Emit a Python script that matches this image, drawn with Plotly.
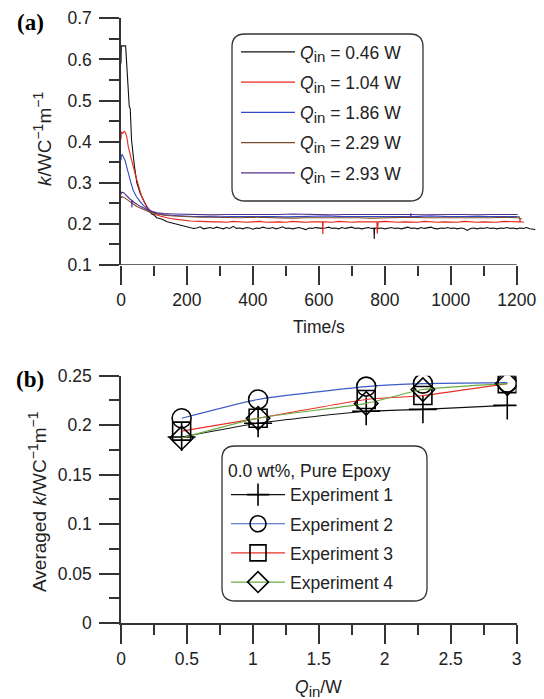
import plotly.graph_objects as go

W, H = 544, 699
def X(px): return px / W
def Y(py): return 1 - py / H

# ---------------- panel (a) data ----------------
legend_a = ["0.46", "1.04", "1.86", "2.29", "2.93"]

t_black = [0, 1, 14, 20, 25, 28, 32, 40, 48, 58, 68, 80, 93, 100, 108, 123, 140, 159, 180, 200,
           210, 220, 230, 240, 250, 260, 270, 280, 290, 300, 310, 320, 330, 340, 350, 360, 370, 380, 390, 400,
           410, 420, 430, 440, 450, 460, 470, 480, 490, 500, 510, 520, 530, 540, 550, 560, 570, 580, 590, 600,
           610, 620, 630, 640, 650, 660, 670, 680, 690, 700, 710, 720, 730, 740, 750, 760, 767, 768, 769, 780,
           790, 800, 810, 820, 830, 840, 850, 860, 870, 880, 890, 900, 910, 920, 930, 940, 950, 960, 970, 980,
           990, 1000, 1010, 1020, 1030, 1040, 1050, 1060, 1070, 1080, 1090, 1100, 1110, 1120, 1130, 1140, 1150,
           1160, 1170, 1180, 1190, 1200, 1210, 1220, 1230, 1240, 1250, 1256]
k_black = [0.590, 0.633, 0.633, 0.550, 0.486, 0.480, 0.404, 0.345, 0.300, 0.275, 0.258, 0.238, 0.224, 0.222, 0.215, 0.212, 0.205, 0.201, 0.196, 0.192,
           0.191, 0.189, 0.190, 0.193, 0.188, 0.190, 0.191, 0.189, 0.192, 0.190, 0.188, 0.191, 0.189, 0.194, 0.189, 0.190, 0.188, 0.191, 0.190, 0.187,
           0.190, 0.189, 0.192, 0.190, 0.189, 0.191, 0.188, 0.190, 0.193, 0.189, 0.190, 0.188, 0.190, 0.191, 0.189, 0.186, 0.190, 0.189, 0.191, 0.190,
           0.189, 0.190, 0.192, 0.189, 0.190, 0.188, 0.191, 0.189, 0.190, 0.192, 0.189, 0.190, 0.188, 0.190, 0.191, 0.189, 0.189, 0.163, 0.190, 0.189,
           0.190, 0.188, 0.190, 0.191, 0.189, 0.190, 0.188, 0.190, 0.192, 0.189, 0.190, 0.188, 0.191, 0.189, 0.190, 0.192, 0.189, 0.188, 0.190, 0.189,
           0.191, 0.189, 0.190, 0.188, 0.190, 0.189, 0.184, 0.189, 0.190, 0.188, 0.190, 0.189, 0.191, 0.189, 0.190, 0.188, 0.190,
           0.189, 0.191, 0.189, 0.190, 0.188, 0.190, 0.189, 0.191, 0.188, 0.187, 0.186]

t_red = [0, 1, 5, 10, 14, 18, 22, 27, 32, 40, 48, 55, 63, 72, 83, 95, 105, 118, 135, 150, 169, 190, 210, 240, 260,
         280, 300, 320, 340, 360, 380, 400, 420, 440, 460, 480, 500, 520, 540, 560, 580, 600, 611, 612, 613, 620,
         640, 660, 680, 700, 720, 740, 760, 776, 777, 778, 780, 800, 820, 840, 860, 880, 900, 920, 940, 960, 980,
         1000, 1020, 1040, 1060, 1080, 1100, 1120, 1140, 1160, 1180, 1200, 1209, 1210, 1211, 1222]
k_red = [0.405, 0.424, 0.420, 0.425, 0.421, 0.410, 0.388, 0.370, 0.355, 0.330, 0.307, 0.286, 0.266, 0.250, 0.238, 0.228, 0.223, 0.219, 0.215, 0.213, 0.211, 0.209, 0.207, 0.206, 0.205,
         0.205, 0.205, 0.204, 0.206, 0.205, 0.204, 0.205, 0.206, 0.204, 0.205, 0.205, 0.204, 0.206, 0.205, 0.204, 0.205, 0.205, 0.205, 0.175, 0.205, 0.205,
         0.204, 0.206, 0.205, 0.204, 0.205, 0.205, 0.204, 0.205, 0.176, 0.205, 0.205, 0.206, 0.205, 0.204, 0.205, 0.205, 0.204, 0.206, 0.205, 0.204, 0.205,
         0.205, 0.204, 0.206, 0.205, 0.204, 0.205, 0.205, 0.204, 0.206, 0.205, 0.205, 0.205, 0.213, 0.205, 0.204]

t_blue = [0, 1, 4, 8, 12, 17, 22, 30, 37, 47, 58, 70, 83, 95, 108, 125, 150, 180, 220, 260, 300, 340, 380, 420, 460,
          500, 540, 580, 620, 660, 700, 740, 780, 820, 860, 878, 879, 880, 900, 940, 980, 1020, 1060, 1100, 1140, 1180, 1203]
k_blue = [0.355, 0.368, 0.368, 0.362, 0.355, 0.340, 0.323, 0.300, 0.282, 0.266, 0.254, 0.243, 0.234, 0.229, 0.226, 0.223, 0.221, 0.219, 0.218, 0.218, 0.217, 0.218, 0.218, 0.219, 0.218,
          0.217, 0.218, 0.218, 0.219, 0.218, 0.218, 0.217, 0.218, 0.218, 0.218, 0.218, 0.226, 0.218, 0.218, 0.219, 0.218, 0.218, 0.217, 0.218, 0.218, 0.218, 0.218]

t_brown = [0, 2, 8, 15, 25, 35, 47, 60, 75, 90, 110, 130, 160, 200, 240, 280, 320, 360, 400, 440, 480, 520, 560, 600,
           640, 680, 720, 760, 800, 840, 880, 920, 960, 1000, 1040, 1080, 1120, 1160, 1200, 1206, 1207, 1208, 1215]
k_brown = [0.262, 0.266, 0.265, 0.261, 0.255, 0.249, 0.243, 0.238, 0.232, 0.228, 0.224, 0.221, 0.219, 0.217, 0.216, 0.216, 0.215, 0.215, 0.216, 0.215, 0.215, 0.214, 0.215, 0.215,
           0.216, 0.215, 0.215, 0.214, 0.215, 0.215, 0.216, 0.215, 0.215, 0.214, 0.215, 0.215, 0.215, 0.216, 0.215, 0.215, 0.219, 0.213, 0.213]

t_purple = [0, 2, 8, 14, 20, 28, 32, 33, 34, 40, 50, 60, 75, 90, 110, 130, 160, 200, 240, 280, 320, 360, 400, 440, 480,
            520, 560, 600, 640, 680, 720, 760, 800, 840, 880, 920, 960, 1000, 1040, 1080, 1120, 1160, 1203]
k_purple = [0.272, 0.277, 0.276, 0.272, 0.266, 0.260, 0.258, 0.240, 0.257, 0.252, 0.246, 0.242, 0.236, 0.231, 0.227, 0.225, 0.224, 0.223, 0.223, 0.222, 0.223, 0.223, 0.222, 0.223, 0.223,
            0.224, 0.223, 0.223, 0.222, 0.223, 0.223, 0.223, 0.224, 0.223, 0.223, 0.222, 0.223, 0.223, 0.223, 0.222, 0.223, 0.223, 0.223]

# ---------------- panel (b) data ----------------
q_in = [0.46, 1.04, 1.86, 2.29, 2.93]
exp1 = [0.188, 0.202, 0.214, 0.216, 0.220]
exp2 = [0.207, 0.226, 0.239, 0.242, 0.243]
exp3 = [0.194, 0.207, 0.226, 0.230, 0.242]
exp4 = [0.187, 0.207, 0.222, 0.236, 0.242]
exp_names = ["Experiment 1", "Experiment 2", "Experiment 3", "Experiment 4"]

FONT = "Liberation Sans, Arial, sans-serif"
AX = "#333333"
TXT = "#222222"
FS = 17.5
SUB = "<span style='font-size:15px'>%s</span>"

fig = go.Figure()

series_a = [(t_black, k_black, "#111111"), (t_red, k_red, "#e8261e"), (t_blue, k_blue, "#3048c4"),
            (t_brown, k_brown, "#7a4a2c"), (t_purple, k_purple, "#55308c")]
for i, (t, k, c) in enumerate(series_a):
    fig.add_trace(go.Scatter(x=t, y=k, mode="lines", line=dict(color=c, width=1.1),
                             name="<i>Q</i><sub>" + SUB % "in" + "</sub> = " + legend_a[i] + " W",
                             legendgroup="a%d" % i, xaxis="x", yaxis="y", legend="legend"))

series_b = [(exp1, "#111111", "cross-thin", 20), (exp2, "#3b5bc9", "circle-open", 19),
            (exp3, "#e8302a", "square-open", 18), (exp4, "#6aab3e", "diamond-open", 18)]
for i, (v, c, sym, sz) in enumerate(series_b):
    fig.add_trace(go.Scatter(x=q_in, y=v, mode="lines+markers",
                             line=dict(color=c, width=1.1, shape="spline", smoothing=0.5),
                             marker=dict(symbol=sym, size=sz, color="black", line=dict(width=1.6, color="black")),
                             name=exp_names[i], legendgroup="b%d" % i,
                             xaxis="x2", yaxis="y2", legend="legend2"))

tickfont = dict(family=FONT, size=FS, color=TXT)
common = dict(showgrid=False, zeroline=False, ticks="outside", tickcolor=AX, tickwidth=1.5,
              linecolor=AX, linewidth=1.5, tickfont=tickfont, automargin=False)

fig.update_layout(
    template="none",
    width=W, height=H, margin=dict(l=0, r=0, t=0, b=0, pad=0),
    paper_bgcolor="white", plot_bgcolor="white",
    font=dict(family=FONT, color=TXT),
    xaxis=dict(domain=[X(121), X(536.5)], range=[0, 1260], anchor="y", showline=False,
               tickvals=[0, 200, 400, 600, 800, 1000, 1200], ticklen=19,
               minor=dict(tickvals=[100, 300, 500, 700, 900, 1100], ticklen=10, tickcolor=AX, tickwidth=1.5, ticks="outside"),
               **common),
    yaxis=dict(domain=[Y(265), Y(18.3)], range=[0.1, 0.7], anchor="x", showline=True,
               tickvals=[0.1, 0.2, 0.3, 0.4, 0.5, 0.6, 0.7], ticklen=20, ticklabelstandoff=4,
               minor=dict(dtick=0.05, ticklen=10, tickcolor=AX, tickwidth=1.5, ticks="outside"),
               **common),
    xaxis2=dict(domain=[X(121), X(516.5)], range=[0, 3], anchor="y2", showline=True,
                tickvals=[0, 0.5, 1, 1.5, 2, 2.5, 3], ticktext=["0", "0.5", "1", "1.5", "2", "2.5", "3"], ticklen=19,
                minor=dict(dtick=0.25, ticklen=10, tickcolor=AX, tickwidth=1.5, ticks="outside"),
                **common),
    yaxis2=dict(domain=[Y(623), Y(375.7)], range=[0, 0.25], anchor="x2", showline=True,
                tickvals=[0, 0.05, 0.1, 0.15, 0.2, 0.25], ticktext=["0", "0.05", "0.1", "0.15", "0.2", "0.25"], ticklen=20,
                ticklabelstandoff=4,
                minor=dict(dtick=0.025, ticklen=10, tickcolor=AX, tickwidth=1.5, ticks="outside"),
                **common),
    legend=dict(x=X(236), y=Y(34), xanchor="left", yanchor="top", bgcolor="rgba(0,0,0,0)", borderwidth=0,
                font=dict(family=FONT, size=FS, color=TXT), traceorder="grouped", tracegroupgap=4.5, itemwidth=54),
    legend2=dict(x=X(226), y=Y(454), xanchor="left", yanchor="top", bgcolor="rgba(0,0,0,0)", borderwidth=0,
                 font=dict(family=FONT, size=FS, color=TXT), traceorder="grouped", tracegroupgap=3.4, itemwidth=54,
                 title=dict(text="0.0 wt%, Pure Epoxy", font=dict(family=FONT, size=FS, color=TXT))),
    showlegend=True,
)

def rrect(x0, y0, x1, y1, r):
    return (f"M {X(x0 + r)},{Y(y0)} L {X(x1 - r)},{Y(y0)} Q {X(x1)},{Y(y0)} {X(x1)},{Y(y0 + r)} "
            f"L {X(x1)},{Y(y1 - r)} Q {X(x1)},{Y(y1)} {X(x1 - r)},{Y(y1)} "
            f"L {X(x0 + r)},{Y(y1)} Q {X(x0)},{Y(y1)} {X(x0)},{Y(y1 - r)} "
            f"L {X(x0)},{Y(y0 + r)} Q {X(x0)},{Y(y0)} {X(x0 + r)},{Y(y0)} Z")

fig.add_shape(type="path", path=rrect(232, 34, 423, 201, 13), xref="paper", yref="paper",
              line=dict(color=AX, width=1.3))
fig.add_shape(type="path", path=rrect(222, 446, 427, 601, 13), xref="paper", yref="paper",
              line=dict(color=AX, width=1.3))
# bottom axis line of panel (a), which stops at 1200 s
fig.add_shape(type="line", x0=0, x1=1200, y0=0.1, y1=0.1, xref="x", yref="y", line=dict(color=AX, width=1.5))

ann = [
    dict(text="<b>(a)</b>", x=X(30), y=Y(22)),
    dict(text="<b>(b)</b>", x=X(30), y=Y(379)),
]
for a in ann:
    fig.add_annotation(xref="paper", yref="paper", showarrow=False, xanchor="center", yanchor="middle",
                       font=dict(family="Liberation Serif, Times New Roman, serif", size=23, color="black"), **a)

SUP = "<sup><span style='font-size:14px'>\u22121</span></sup>"
fig.add_annotation(xref="paper", yref="paper", x=X(43), y=Y(139), showarrow=False, textangle=-90,
                   xanchor="center", yanchor="middle",
                   text="<i>k</i>/WC" + SUP + "m" + SUP, font=dict(family=FONT, size=19, color=TXT))
fig.add_annotation(xref="x", yref="paper", x=600, y=Y(327), showarrow=False, xanchor="center", yanchor="middle",
                   text="Time/s", font=dict(family=FONT, size=FS, color=TXT))
fig.add_annotation(xref="paper", yref="paper", x=X(37), y=Y(502), showarrow=False, textangle=-90,
                   xanchor="center", yanchor="middle",
                   text="Averaged <i>k</i>/WC" + SUP + "m" + SUP, font=dict(family=FONT, size=19, color=TXT))
fig.add_annotation(xref="paper", yref="paper", x=X(318), y=Y(688), showarrow=False, xanchor="center", yanchor="middle",
                   text="<i>Q</i><sub>" + SUB % "in" + "</sub>/W", font=dict(family=FONT, size=FS, color=TXT))

fig.write_html("out.html", config={"displayModeBar": False},
               post_script="document.body.style.margin='0px';document.body.style.padding='0px';")
